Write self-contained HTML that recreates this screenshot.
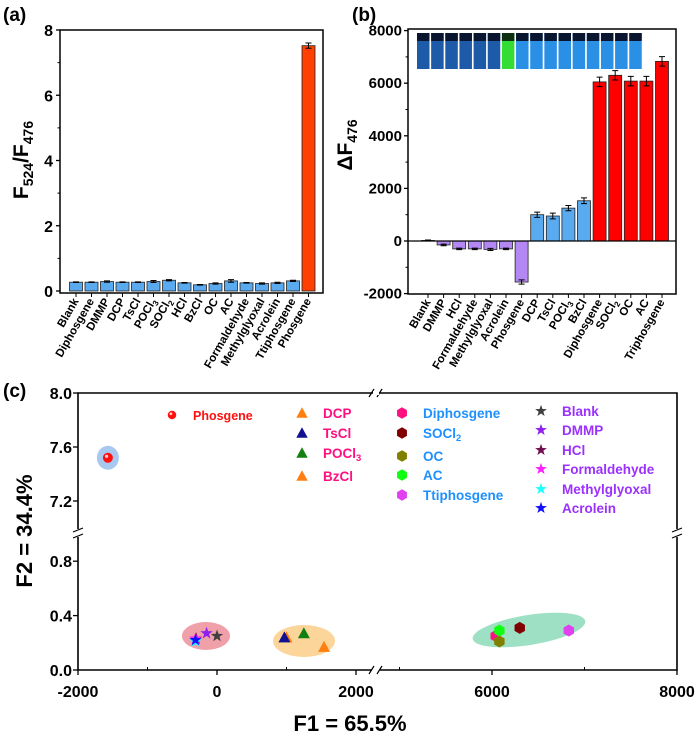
<!DOCTYPE html>
<html><head><meta charset="utf-8"><style>
body{margin:0;background:#fff;}
svg{display:block;font-family:"Liberation Sans",Arial,sans-serif;font-weight:bold;}
</style></head><body>
<svg id="fig" width="700" height="737" viewBox="0 0 700 737">
<g id="ga"></g>
<g id="gb"></g>
<g id="gc"></g>
</svg>
<script>
// Panel (a) data
const aCats = ["Blank","Diphosgene","DMMP","DCP","TsCl","POCl|3","SOCl|2","HCl","BzCl","OC","AC","Formaldehyde","Methylglyoxal","Acrolein","Ttiphosgene","Phosgene"];
const aVals = [0.27,0.27,0.29,0.27,0.27,0.29,0.33,0.25,0.19,0.23,0.31,0.25,0.23,0.25,0.31,7.52];
const aErr = [0.01,0.01,0.02,0.01,0.01,0.03,0.02,0.01,0.01,0.02,0.04,0.01,0.02,0.02,0.02,0.08];
const aTicks = [0,2,4,6,8];
// Panel (b) data
const bCats = ["Blank","DMMP","HCl","Formaldehyde","Methylglyoxal","Acrolein","Phosgene","DCP","TsCl","POCl|3","BzCl","Diphosgene","SOCl|2","OC","AC","Triphosgene"];
const bVals = [20,-150,-300,-300,-320,-300,-1560,1000,950,1250,1530,6050,6300,6080,6080,6830];
const bErr = [20,30,30,30,40,30,80,100,110,100,110,180,180,180,180,180];
const bGroup = [0,0,0,0,0,0,0,1,1,1,1,2,2,2,2,2];
const bTicks = [-2000,0,2000,4000,6000,8000];
const vialType = [0,0,0,0,0,0,1,2,2,2,2,2,2,2,2,2];
// Panel (c) data
const cNames = ["Phosgene","DCP","TsCl","POCl3","BzCl","Diphosgene","SOCl2","OC","AC","Ttiphosgene","Blank","DMMP","HCl","Formaldehyde","Methylglyoxal","Acrolein"];
const cF1 = [-1570,1000,970,1250,1540,6040,6300,6080,6080,6830,0,-150,-300,-310,-310,-310];
const cF2 = [7.52,0.24,0.24,0.27,0.17,0.25,0.31,0.21,0.29,0.29,0.25,0.27,0.23,0.23,0.21,0.22];
const cShape = ["circle","tri","tri","tri","tri","hex","hex","hex","hex","hex","star","star","star","star","star","star"];
const cColor = ["#ff1010","#ff8010","#101090","#108010","#ff8010","#ff1080","#800000","#808000","#10ff10","#e040f0","#404040","#9020f0","#701050","#ff20ff","#20ffff","#1010ff"];
const xTicksC = [-2000,0,2000,6000,8000];
const yTicksC = [0.0,0.4,0.8,7.2,7.6,8.0];

const NS="http://www.w3.org/2000/svg";
function mk(parent,tag,attrs,name,txt){
  const e=document.createElementNS(NS,tag);
  for(const k in attrs)e.setAttribute(k,attrs[k]);
  
  
  if(txt!==undefined)e.textContent=txt;
  parent.appendChild(e);return e;
}
function labelText(parent,x,y,label,size,anchor,extra,name){
  const t=mk(parent,'text',Object.assign({x:x,y:y,'font-size':size,'text-anchor':anchor},extra||{}),name);
  const p=label.split('|');
  const s1=document.createElementNS(NS,'tspan');s1.textContent=p[0];t.appendChild(s1);
  if(p[1]){const s2=document.createElementNS(NS,'tspan');s2.setAttribute('font-size',size*0.7);s2.setAttribute('dy',3);s2.textContent=p[1];t.appendChild(s2);}
  return t;
}

// ---------- Panel A ----------
(function(){
  const g=document.getElementById('ga');
  const L=60,R=323,T=30,B=293;
  const y=v=>291-v*(261/8);
  const x=i=>76+i*15.5;
  mk(g,'text',{x:3,y:21,'font-size':19},'panel-a-label','(a)');
  aVals.forEach((v,i)=>{
    const col=i===15?'#ff4000':'#5aaaf0';
    mk(g,'rect',{x:x(i)-6.5,y:y(v),width:13,height:y(0)-y(v),fill:col,stroke:'#222','stroke-width':0.8},'bar-a');
    const e=aErr[i];
    mk(g,'path',{d:`M${x(i)},${y(v+e)}V${y(v-e)}M${x(i)-3},${y(v+e)}h6M${x(i)-3},${y(v-e)}h6`,stroke:'#000','stroke-width':1,fill:'none'},'error-bar-a');
    labelText(g,x(i)+3,301,aCats[i],11.5,'end',{transform:`rotate(-60 ${x(i)+3} 301)`},'x-tick-label-a');
  });
  mk(g,'rect',{x:L,y:T,width:R-L,height:B-T,fill:'none',stroke:'#000','stroke-width':1.5},'plot-frame-a');
  aTicks.forEach(t=>{
    mk(g,'line',{x1:L-4,x2:L,y1:y(t),y2:y(t),stroke:'#000','stroke-width':1.3},'y-tick-a');
    mk(g,'text',{x:L-7,y:y(t)+6,'font-size':16,'text-anchor':'end'},'y-tick-label-a',String(t));
    if(t<8)mk(g,'line',{x1:L-2.5,x2:L,y1:y(t+1),y2:y(t+1),stroke:'#000','stroke-width':1},'y-minor-tick-a');
  });
  for(let i=0;i<16;i++)mk(g,'line',{x1:x(i),x2:x(i),y1:B,y2:B+4,stroke:'#000','stroke-width':1},'x-tick-a');
  const yl=mk(g,'text',{x:0,y:0,'font-size':21,'text-anchor':'middle',transform:'translate(28,160) rotate(-90)'},'y-axis-title-a');
  yl.innerHTML='F<tspan font-size="14" dy="5">524</tspan><tspan dy="-5">/F</tspan><tspan font-size="14" dy="5">476</tspan>';
})();

// ---------- Panel B ----------
(function(){
  const g=document.getElementById('gb');
  const L=408,R=676,T=29,B=294;
  const y=v=>241-v*(52.6/2000);
  const x=i=>428+i*15.6;
  mk(g,'text',{x:352,y:21,'font-size':19},'panel-b-label','(b)');
  const cols=['#b388f5','#5aaaf0','#ff0000'];
  bVals.forEach((v,i)=>{
    const y0=Math.min(y(v),y(0)),h=Math.abs(y(v)-y(0));
    mk(g,'rect',{x:x(i)-6.5,y:y0,width:13,height:h,fill:cols[bGroup[i]],stroke:'#222','stroke-width':0.8},'bar-b');
    const e=bErr[i];
    mk(g,'path',{d:`M${x(i)},${y(v+e)}V${y(v-e)}M${x(i)-3},${y(v+e)}h6M${x(i)-3},${y(v-e)}h6`,stroke:'#000','stroke-width':1,fill:'none'},'error-bar-b');
    labelText(g,x(i)+3,302,bCats[i],11.5,'end',{transform:`rotate(-60 ${x(i)+3} 302)`},'x-tick-label-b');
  });
  mk(g,'line',{x1:L,x2:R,y1:y(0),y2:y(0),stroke:'#000','stroke-width':1.2},'zero-line-b');
  const vc=['#1d5aa8','#33dd33','#2a90e6'];
  vialType.forEach((t,i)=>{
    const vx=417+i*14.15;
    mk(g,'rect',{x:vx,y:33,width:12.5,height:36,fill:vc[t]},'vial');
    mk(g,'rect',{x:vx,y:33,width:12.5,height:8,fill:t===1?'#0d3010':'#0a1530'},'vial-cap');
  });
  mk(g,'rect',{x:L,y:T,width:R-L,height:B-T,fill:'none',stroke:'#000','stroke-width':1.5},'plot-frame-b');
  bTicks.forEach(t=>{
    mk(g,'line',{x1:L-4,x2:L,y1:y(t),y2:y(t),stroke:'#000','stroke-width':1.3},'y-tick-b');
    mk(g,'text',{x:L-6,y:y(t)+5,'font-size':15,'text-anchor':'end'},'y-tick-label-b',String(t));
    if(t<8000)mk(g,'line',{x1:L-2.5,x2:L,y1:y(t+1000),y2:y(t+1000),stroke:'#000','stroke-width':1},'y-minor-tick-b');
  });
  for(let i=0;i<16;i++)mk(g,'line',{x1:x(i),x2:x(i),y1:B,y2:B+4,stroke:'#000','stroke-width':1},'x-tick-b');
  const yl=mk(g,'text',{x:0,y:0,'font-size':21,'text-anchor':'middle',transform:'translate(352,145) rotate(-90)'},'y-axis-title-b');
  yl.innerHTML='ΔF<tspan font-size="14" dy="5">476</tspan>';
})();

// ---------- Panel C ----------
(function(){
  const g=document.getElementById('gc');
  const L=78,R=677,T=393,B=670,BX=375,BY=533;
  const x=v=> v<4000 ? 217+v*(139/2000) : 492+(v-6000)*(185/2000);
  const y=v=> v<4 ? 670-v*136 : 501-(v-7.2)*135;
  mk(g,'text',{x:3,y:397,'font-size':19},'panel-c-label','(c)');
  mk(g,'ellipse',{cx:x(-1570),cy:y(7.52),rx:11,ry:12,fill:'#a8c8f0'},'cluster-phosgene');
  mk(g,'ellipse',{cx:206,cy:636,rx:24,ry:14,fill:'#f0a0a8'},'cluster-stars');
  mk(g,'ellipse',{cx:304,cy:641,rx:31,ry:16,fill:'#fcd59a'},'cluster-triangles');
  mk(g,'ellipse',{cx:529,cy:630,rx:57,ry:15,fill:'#9ee0c4',transform:'rotate(-9 529 630)'},'cluster-hexagons');
  function marker(shape,cx,cy,col,s){
    let d;
    if(shape==='circle'){const gg=mk(g,'circle',{cx:cx,cy:cy,r:5*s,fill:col},'marker-circle');
      mk(g,'circle',{cx:cx-1.3*s,cy:cy-1.5*s,r:1.6*s,fill:'#fff','fill-opacity':0.8},'marker-highlight');return gg;}
    if(shape==='tri')d=`M${cx},${cy-6*s}L${cx+6*s},${cy+5*s}L${cx-6*s},${cy+5*s}Z`;
    if(shape==='hex'){d='';for(let k=0;k<6;k++){const a=Math.PI/3*k+Math.PI/6;d+=(k?'L':'M')+(cx+6*s*Math.cos(a))+','+(cy+6*s*Math.sin(a));}d+='Z';}
    if(shape==='star'){d='';for(let k=0;k<10;k++){const r=(k%2?2.6:6.5)*s,a=-Math.PI/2+k*Math.PI/5;d+=(k?'L':'M')+(cx+r*Math.cos(a))+','+(cy+r*Math.sin(a));}d+='Z';}
    return mk(g,'path',{d:d,fill:col},'marker-'+shape);
  }
  cNames.forEach((n,i)=>{ marker(cShape[i],x(cF1[i]),y(cF2[i]),cColor[i],1); });
  const legPos=[[172,415],[302,413],[302,433],[302,453],[302,476],[402,413],[402,433],[402,456],[402,475],[402,495],[541,411],[541,430],[541,450],[541,469],[541,489],[541,508]];
  const legCol=['#ff1010','#ff1080','#ff1080','#ff1080','#ff1080','#1e90ff','#1e90ff','#1e90ff','#1e90ff','#1e90ff','#9b30ff','#9b30ff','#9b30ff','#9b30ff','#9b30ff','#9b30ff'];
  const legLabel=["Phosgene","DCP","TsCl","POCl|3","BzCl","Diphosgene","SOCl|2","OC","AC","Ttiphosgene","Blank","DMMP","HCl","Formaldehyde","Methylglyoxal","Acrolein"];
  cNames.forEach((n,i)=>{
    const [lx,ly]=legPos[i];
    marker(cShape[i],lx,ly,cColor[i],cShape[i]==='circle'?0.85:0.95);
    labelText(g,lx+21,ly+5,legLabel[i],i===0?12.5:13.5,'start',{fill:legCol[i]},'legend-entry');
  });
  mk(g,'path',{d:`M${L},${BY-4}V${T}H${R}V${BY-4}M${R},${BY+4}V${B}H${BX+5}M${BX-3},${B}H${L}V${BY+4}M${BX-3},${T}H${L}`,stroke:'#000','stroke-width':1.6,fill:'none'},'plot-frame-c');
  mk(g,'path',{d:`M${L-5},${BY-1}l10,-4M${L-5},${BY+5}l10,-4M${R-5},${BY-1}l10,-4M${R-5},${BY+5}l10,-4M${BX-6},${B+4}l5,-8M${BX+2},${B+4}l5,-8M${BX-6},${T+4}l5,-8M${BX+2},${T+4}l5,-8`,stroke:'#000','stroke-width':1.2,fill:'none'},'axis-break-marks');
  mk(g,'rect',{x:BX-2,y:T-2,width:6,height:4,fill:'#fff'},'break-gap-top');
  xTicksC.forEach(t=>{
    mk(g,'line',{x1:x(t),x2:x(t),y1:B,y2:B+5,stroke:'#000','stroke-width':1.3},'x-tick-c');
    mk(g,'text',{x:x(t),y:B+27,'font-size':16,'text-anchor':'middle'},'x-tick-label-c',String(t));
  });
  [-1000,1000,5000,7000].forEach(t=>mk(g,'line',{x1:x(t),x2:x(t),y1:B,y2:B-3,stroke:'#000','stroke-width':1},'x-minor-tick-c'));
  yTicksC.forEach(t=>{
    mk(g,'line',{x1:L-5,x2:L,y1:y(t),y2:y(t),stroke:'#000','stroke-width':1.3},'y-tick-c');
    mk(g,'text',{x:L-6,y:y(t)+6,'font-size':16,'text-anchor':'end'},'y-tick-label-c',t.toFixed(1));
  });
  mk(g,'text',{x:0,y:0,'font-size':22,'text-anchor':'middle',transform:'translate(32,531) rotate(-90)'},'y-axis-title-c','F2 = 34.4%');
  mk(g,'text',{x:350,y:731,'font-size':22,'text-anchor':'middle'},'x-axis-title-c','F1 = 65.5%');
})();
</script>
</body></html>
